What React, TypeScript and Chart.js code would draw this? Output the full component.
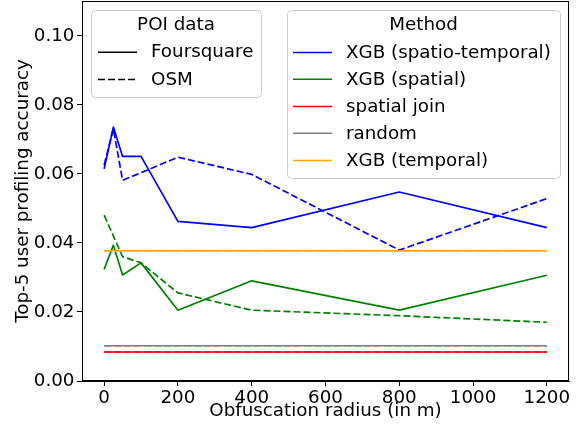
import React, { useEffect, useRef } from "react";
import { Chart, registerables } from "chart.js";

Chart.register(...registerables);

const radii = [0, 25, 50, 100, 200, 400, 800, 1200];
const xTicks = [0, 200, 400, 600, 800, 1000, 1200];
const yTicks = [0, 0.02, 0.04, 0.06, 0.08, 0.1];

const spatioTemporalFoursquare = [0.0614, 0.0735, 0.065, 0.065, 0.0462, 0.0444, 0.0547, 0.0444];
const spatioTemporalOsm = [0.0625, 0.073, 0.0581, 0.0603, 0.0648, 0.0598, 0.0379, 0.0528];
const spatialFoursquare = [0.0323, 0.0393, 0.0307, 0.0342, 0.0205, 0.029, 0.0205, 0.0306];
const spatialOsm = [0.048, 0.042, 0.036, 0.0342, 0.0255, 0.0205, 0.0189, 0.017];
const spatialJoinFoursquare = [0.0084, 0.0084, 0.0084, 0.0084, 0.0084, 0.0084, 0.0084, 0.0084];
const spatialJoinOsm = [0.0084, 0.0084, 0.0084, 0.0084, 0.0084, 0.0084, 0.0084, 0.0084];
const randomFoursquare = [0.0102, 0.0102, 0.0102, 0.0102, 0.0102, 0.0102, 0.0102, 0.0102];
const randomOsm = [0.0102, 0.0102, 0.0102, 0.0102, 0.0102, 0.0102, 0.0102, 0.0102];
const temporalFoursquare = [0.0377, 0.0377, 0.0377, 0.0377, 0.0377, 0.0377, 0.0377, 0.0377];
const temporalOsm = [0.0377, 0.0377, 0.0377, 0.0377, 0.0377, 0.0377, 0.0377, 0.0377];

const poiLabels = ["Foursquare", "OSM"];
const methodLabels = ["XGB (spatio-temporal)", "XGB (spatial)", "spatial join", "random", "XGB (temporal)"];
const methodColors = ["#0000ff", "#008000", "#ff0000", "#808080", "#ffa500"];

const FONT = '18.3px "DejaVu Sans"';
const DASH = [7, 3];

function pts(vals: number[]) {
  return radii.map((x, i) => ({ x, y: vals[i] }));
}

function roundRect(ctx: CanvasRenderingContext2D, x: number, y: number, w: number, h: number, r: number) {
  ctx.beginPath();
  ctx.moveTo(x + r, y);
  ctx.lineTo(x + w - r, y);
  ctx.arcTo(x + w, y, x + w, y + r, r);
  ctx.lineTo(x + w, y + h - r);
  ctx.arcTo(x + w, y + h, x + w - r, y + h, r);
  ctx.lineTo(x + r, y + h);
  ctx.arcTo(x, y + h, x, y + h - r, r);
  ctx.lineTo(x, y + r);
  ctx.arcTo(x, y, x + r, y, r);
  ctx.closePath();
}

const decorPlugin = {
  id: "decor",
  afterDraw(chart: any) {
    const ctx: CanvasRenderingContext2D = chart.ctx;
    const a = chart.chartArea;
    const xs = chart.scales.x;
    const ys = chart.scales.y;
    ctx.save();
    // frame
    ctx.strokeStyle = "#000";
    ctx.lineWidth = 1;
    ctx.setLineDash([]);
    ctx.strokeRect(a.left + 0.5, a.top + 0.5, a.right - a.left - 1, a.bottom - a.top - 1);

    ctx.fillStyle = "#000";
    ctx.font = FONT;
    // x tick labels
    ctx.textAlign = "center";
    ctx.textBaseline = "alphabetic";
    xTicks.forEach((v) => {
      ctx.fillText(String(v), xs.getPixelForValue(v), 402.5);
    });
    // y tick labels
    ctx.textAlign = "right";
    ctx.textBaseline = "middle";
    yTicks.forEach((v) => {
      ctx.fillText(v.toFixed(2), 74.5, ys.getPixelForValue(v) + 0.5);
    });
    // axis titles
    ctx.textAlign = "center";
    ctx.textBaseline = "alphabetic";
    ctx.fillText("Obfuscation radius (in m)", (a.left + a.right) / 2, 415.5);
    ctx.textBaseline = "middle";
    ctx.save();
    ctx.translate(23, (a.top + a.bottom) / 2);
    ctx.rotate(-Math.PI / 2);
    ctx.fillText("Top-5 user profiling accuracy", 0, 0);
    ctx.restore();

    const drawBox = (x: number, y: number, w: number, h: number) => {
      roundRect(ctx, x + 0.5, y + 0.5, w, h, 4);
      ctx.fillStyle = "rgba(255,255,255,0.8)";
      ctx.fill();
      ctx.strokeStyle = "#cccccc";
      ctx.lineWidth = 1;
      ctx.setLineDash([]);
      ctx.stroke();
    };

    // POI legend
    drawBox(91, 10, 170, 87);
    ctx.fillStyle = "#000";
    ctx.textAlign = "center";
    ctx.fillText("POI data", 176, 25.5);
    const poiRows = [52.2, 79.5];
    poiLabels.forEach((lab, i) => {
      ctx.strokeStyle = "#000";
      ctx.lineWidth = 1.5;
      ctx.setLineDash(i === 0 ? [] : DASH);
      ctx.beginPath();
      ctx.moveTo(98, poiRows[i]);
      ctx.lineTo(137, poiRows[i]);
      ctx.stroke();
      ctx.setLineDash([]);
      ctx.fillStyle = "#000";
      ctx.textAlign = "left";
      ctx.fillText(lab, 151, poiRows[i] + 0.5);
    });

    // Method legend
    drawBox(287, 10, 273, 168);
    ctx.fillStyle = "#000";
    ctx.textAlign = "center";
    ctx.fillText("Method", 423.5, 25.5);
    const mRows = [52.4, 79.3, 106.5, 133.3, 160.5];
    methodLabels.forEach((lab, i) => {
      ctx.strokeStyle = methodColors[i];
      ctx.lineWidth = 1.5;
      ctx.setLineDash([]);
      ctx.beginPath();
      ctx.moveTo(293, mRows[i]);
      ctx.lineTo(332, mRows[i]);
      ctx.stroke();
      ctx.fillStyle = "#000";
      ctx.textAlign = "left";
      ctx.fillText(lab, 346, mRows[i] + 0.5);
    });
    ctx.restore();
  },
};

export default function App() {
  const ref = useRef<HTMLCanvasElement>(null);
  useEffect(() => {
    document.body.style.margin = "0";
    const mk = (vals: number[], color: string, dashed: boolean) => ({
      data: pts(vals),
      borderColor: color,
      backgroundColor: color,
      borderWidth: 1.7,
      borderDash: dashed ? DASH : [],
      pointRadius: 0,
      tension: 0,
      fill: false,
      borderJoinStyle: "round" as const,
    });
    const chart = new Chart(ref.current!, {
      type: "line",
      data: {
        datasets: [
          mk(temporalOsm, methodColors[4], true),
          mk(temporalFoursquare, methodColors[4], false),
          mk(randomOsm, methodColors[3], true),
          mk(randomFoursquare, methodColors[3], false),
          mk(spatialJoinOsm, methodColors[2], true),
          mk(spatialJoinFoursquare, methodColors[2], false),
          mk(spatialOsm, methodColors[1], true),
          mk(spatialFoursquare, methodColors[1], false),
          mk(spatioTemporalOsm, methodColors[0], true),
          mk(spatioTemporalFoursquare, methodColors[0], false),
        ],
      },
      options: {
        responsive: false,
        animation: false,
        layout: { padding: { top: 1, right: 12, left: 0, bottom: 0 } },
        plugins: { legend: { display: false }, tooltip: { enabled: false } },
        scales: {
          x: {
            type: "linear",
            min: -60,
            max: 1260,
            afterBuildTicks: (s: any) => {
              s.ticks = xTicks.map((v) => ({ value: v }));
            },
            afterFit: (s: any) => {
              s.height = 52;
              s.paddingLeft = 0;
              s.paddingRight = 0;
              s.paddingTop = 0;
              s.paddingBottom = 0;
            },
            grid: { drawOnChartArea: false, drawTicks: true, tickLength: 5, tickColor: "#000", tickWidth: 1 },
            border: { display: true, color: "#000", width: 1 },
            ticks: { display: false, autoSkip: false },
          },
          y: {
            type: "linear",
            min: 0,
            max: 0.11,
            afterBuildTicks: (s: any) => {
              s.ticks = yTicks.map((v) => ({ value: v }));
            },
            afterFit: (s: any) => {
              s.width = 82;
              s.paddingLeft = 0;
              s.paddingRight = 0;
              s.paddingTop = 0;
              s.paddingBottom = 0;
            },
            grid: { drawOnChartArea: false, drawTicks: true, tickLength: 5, tickColor: "#000", tickWidth: 1 },
            border: { display: true, color: "#000", width: 1 },
            ticks: { display: false, autoSkip: false },
          },
        },
      },
      plugins: [decorPlugin],
    });
    return () => chart.destroy();
  }, []);
  return (
    <div style={{ position: "absolute", left: 0, top: 0, width: 581, height: 433, background: "#fff" }}>
      <canvas ref={ref} width={581} height={433} />
    </div>
  );
}
